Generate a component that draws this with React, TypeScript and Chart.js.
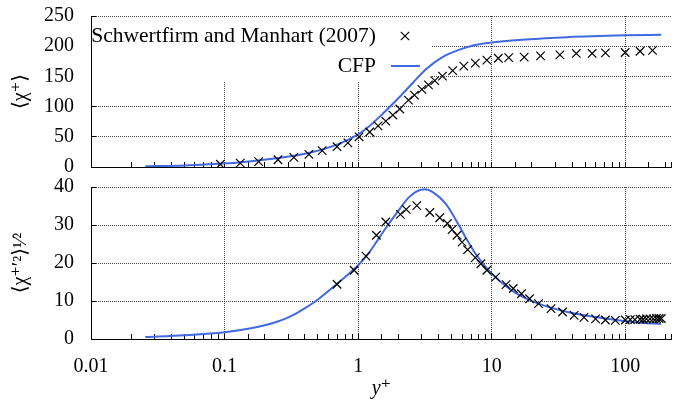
import React, { useEffect, useRef } from 'react';
import { Chart, registerables } from 'chart.js';

Chart.register(...registerables);

// ---------------- data ----------------
const xMajorTicks = [0.01, 0.1, 1, 10, 100];
const xTickLabels = ['0.01', '0.1', '1', '10', '100'];
const yTopTicks = [0, 50, 100, 150, 200, 250];
const yBottomTicks = [0, 10, 20, 30, 40];

const legendLabels = ['Schwertfirm and Manhart (2007)', 'CFP'];

// top panel: <chi+>
const refMeanX = [0.093, 0.131, 0.18, 0.251, 0.33, 0.428, 0.538, 0.695, 0.838, 1.016, 1.22, 1.41, 1.61, 1.82, 2.05, 2.38, 2.64, 3.0, 3.36, 3.75, 4.28, 5.1, 6.18, 7.54, 9.2, 11.2, 13.4, 17.5, 23.2, 32.4, 43, 56.5, 71, 99.8, 129, 160];
const refMeanY = [4.5, 6.5, 9, 12, 16, 21, 27, 33.6, 40, 50, 58, 68, 76, 86, 96, 110.7, 119, 128.5, 136, 143, 150.5, 159.5, 167, 172, 177, 180, 181, 182, 184, 185.6, 188, 188, 189, 189.6, 191.7, 193];
const cfpMeanX = [0.0255, 0.05, 0.076, 0.134, 0.236, 0.417, 0.734, 1.0, 1.16, 1.54, 2.04, 2.56, 3.22, 4.28, 5.67, 7.54, 10, 17.9, 36.9, 100, 186];
const cfpMeanY = [1.3, 2.6, 4.5, 8, 14, 22.6, 39, 54, 64, 89, 116, 139, 162, 182, 194, 202, 206, 211, 215, 218, 219];

// bottom panel: rms
const refRmsX = [0.695, 0.933, 1.144, 1.37, 1.61, 2.07, 2.29, 2.75, 3.44, 4.08, 4.66, 5.05, 5.5, 6.0, 6.6, 7.54, 8.3, 9.2, 10.7, 12.8, 14.5, 16.7, 19.2, 22.4, 27.8, 33.9, 41.4, 49.1, 59.9, 71, 84.2, 100, 109, 118, 129, 136, 144, 153, 162, 171, 179, 186];
const refRmsY = [14.4, 18.1, 21.8, 27.3, 30.8, 32.8, 34.1, 35.1, 33.3, 31.9, 30.4, 28.8, 27.3, 25.5, 23.5, 21.4, 19.8, 18.1, 16.3, 14.3, 13.3, 11.9, 10.6, 9.3, 8.0, 7.1, 6.2, 5.7, 5.3, 5.0, 4.9, 5.0, 5.1, 5.1, 5.2, 5.2, 5.3, 5.3, 5.3, 5.4, 5.4, 5.4];
const cfpRmsX = [0.0255, 0.05, 0.1, 0.15, 0.2, 0.25, 0.3, 0.35, 0.4, 0.5, 0.7, 1.0, 1.2, 1.45, 1.7, 1.93, 2.42, 2.95, 3.2, 3.6, 4.52, 5.67, 6.36, 7.54, 10, 14.1, 20.9, 36.9, 65, 100, 130, 166, 186];
const cfpRmsY = [0.5, 1.0, 1.8, 2.7, 3.6, 4.6, 5.7, 6.9, 8.1, 10.4, 14.6, 19.4, 22.6, 26.8, 30.4, 33, 37.4, 39.3, 39.4, 38.7, 35.6, 30.0, 26.8, 22.5, 17.2, 12.8, 9.7, 7.1, 5.6, 4.7, 4.3, 4.05, 4.0];

// ---------------- styling ----------------
const FONT = '"Liberation Serif", "DejaVu Serif", serif';
const GRID = 'rgba(0,0,0,0.75)';
const BLUE = '#4169e1';
const X_MIN = 0.01;
const X_MAX = 223;

const zip = (xs: number[], ys: number[]) => xs.map((x, i) => ({ x, y: ys[i] }));

const majorIndex = (v: number) =>
  xMajorTicks.findIndex((m) => Math.abs(Math.log10(v) - Math.log10(m)) < 1e-6);

function xScale(showLabels: boolean, height: number) {
  return {
    type: 'logarithmic',
    min: X_MIN,
    max: X_MAX,
    position: 'bottom',
    afterFit: (s: any) => {
      s.height = height;
      s.paddingLeft = 0;
      s.paddingRight = 0;
    },
    grid: {
      color: (c: any) => (c.tick && majorIndex(c.tick.value) >= 0 ? GRID : 'rgba(0,0,0,0)'),
      lineWidth: 1,
      drawTicks: true,
      tickLength: -5,
      tickColor: '#000',
      tickWidth: 1,
    },
    border: { display: true, color: '#000', width: 1, dash: [1, 1] },
    ticks: {
      display: showLabels,
      autoSkip: false,
      maxRotation: 0,
      padding: 21,
      color: '#000',
      font: { family: FONT, size: 20 },
      callback: (v: any) => {
        const i = majorIndex(Number(v));
        return i >= 0 ? xTickLabels[i] : '';
      },
    },
    title: showLabels
      ? {
          display: true,
          text: 'y⁺',
          color: '#000',
          font: { family: FONT, size: 20, style: 'italic' },
          padding: { top: 0, bottom: 2 },
        }
      : { display: false },
  };
}

function yScale(ticksArr: number[], title: string) {
  return {
    type: 'linear',
    position: 'left',
    min: ticksArr[0],
    max: ticksArr[ticksArr.length - 1],
    afterBuildTicks: (s: any) => {
      s.ticks = ticksArr.map((v) => ({ value: v }));
    },
    afterFit: (s: any) => {
      s.width = 91;
      s.paddingTop = 0;
      s.paddingBottom = 0;
    },
    grid: {
      color: GRID,
      lineWidth: 1,
      drawTicks: true,
      tickLength: -5,
      tickColor: '#000',
      tickWidth: 1,
    },
    border: { display: true, color: '#000', width: 1, dash: [1, 1] },
    ticks: {
      padding: 22,
      color: '#000',
      font: { family: FONT, size: 20 },
      callback: (v: any) => String(v),
    },
    title: {
      display: true,
      text: title,
      color: '#000',
      font: { family: FONT, size: 20 },
      padding: { top: 9, bottom: 0 },
    },
  };
}

function datasets(refX: number[], refY: number[], cfpX: number[], cfpY: number[]) {
  return [
    {
      label: legendLabels[0],
      data: zip(refX, refY),
      showLine: false,
      pointStyle: 'crossRot',
      pointRadius: 6,
      pointBorderWidth: 1.2,
      pointBorderColor: '#000',
      pointBackgroundColor: 'rgba(0,0,0,0)',
      borderColor: '#000',
    },
    {
      label: legendLabels[1],
      data: zip(cfpX, cfpY),
      showLine: true,
      borderColor: BLUE,
      borderWidth: 2,
      pointRadius: 0,
      fill: false,
      cubicInterpolationMode: 'monotone',
    },
  ];
}

const insetLegend = {
  id: 'insetLegend',
  beforeDatasetsDraw(chart: any) {
    const { ctx, chartArea: a } = chart;
    ctx.save();
    ctx.fillStyle = '#fff';
    ctx.fillRect(a.left + 1, a.top + 1, 432 - a.left - 1, 81 - a.top - 1);
    ctx.restore();
  },
  afterDatasetsDraw(chart: any) {
    const { ctx } = chart;
    ctx.save();
    ctx.font = `21.5px ${FONT}`;
    ctx.fillStyle = '#000';
    ctx.textAlign = 'right';
    ctx.textBaseline = 'alphabetic';
    ctx.fillText(legendLabels[0], 376, 41.5);
    ctx.fillText(legendLabels[1], 376, 72);
    // cross sample
    const cx = 405, cy = 36, r = 4.2;
    ctx.strokeStyle = '#000';
    ctx.lineWidth = 1.2;
    ctx.beginPath();
    ctx.moveTo(cx - r, cy - r);
    ctx.lineTo(cx + r, cy + r);
    ctx.moveTo(cx - r, cy + r);
    ctx.lineTo(cx + r, cy - r);
    ctx.stroke();
    // line sample
    ctx.strokeStyle = BLUE;
    ctx.lineWidth = 2;
    ctx.beginPath();
    ctx.moveTo(391, 66);
    ctx.lineTo(420, 66);
    ctx.stroke();
    ctx.restore();
  },
};

function baseOptions(padTop: number, scales: any) {
  return {
    responsive: false,
    animation: false,
    devicePixelRatio: 1,
    layout: { padding: { top: padTop, left: 0, right: 0, bottom: 0 } },
    plugins: { legend: { display: false }, tooltip: { enabled: false } },
    scales,
  };
}

export default function App() {
  const topRef = useRef<HTMLCanvasElement>(null);
  const botRef = useRef<HTMLCanvasElement>(null);

  useEffect(() => {
    const top = new Chart(topRef.current as HTMLCanvasElement, {
      type: 'scatter',
      data: { datasets: datasets(refMeanX, refMeanY, cfpMeanX, cfpMeanY) as any },
      options: baseOptions(16, {
        x: xScale(false, 8),
        y: yScale(yTopTicks, '⟨χ⁺⟩'),
      }) as any,
      plugins: [insetLegend],
    });
    const bottom = new Chart(botRef.current as HTMLCanvasElement, {
      type: 'scatter',
      data: { datasets: datasets(refRmsX, refRmsY, cfpRmsX, cfpRmsY) as any },
      options: baseOptions(12, {
        x: xScale(true, 64),
        y: yScale(yBottomTicks, '⟨χ⁺′²⟩¹⁄²'),
      }) as any,
    });
    return () => {
      top.destroy();
      bottom.destroy();
    };
  }, []);

  return (
    <div style={{ position: 'absolute', left: 0, top: 0, width: 679, height: 403, background: '#fff' }}>
      <canvas
        ref={topRef}
        width={679}
        height={175}
        style={{ position: 'absolute', left: 0, top: 0, width: 679, height: 175, display: 'block' }}
      />
      <canvas
        ref={botRef}
        width={679}
        height={228}
        style={{ position: 'absolute', left: 0, top: 175, width: 679, height: 228, display: 'block' }}
      />
    </div>
  );
}
